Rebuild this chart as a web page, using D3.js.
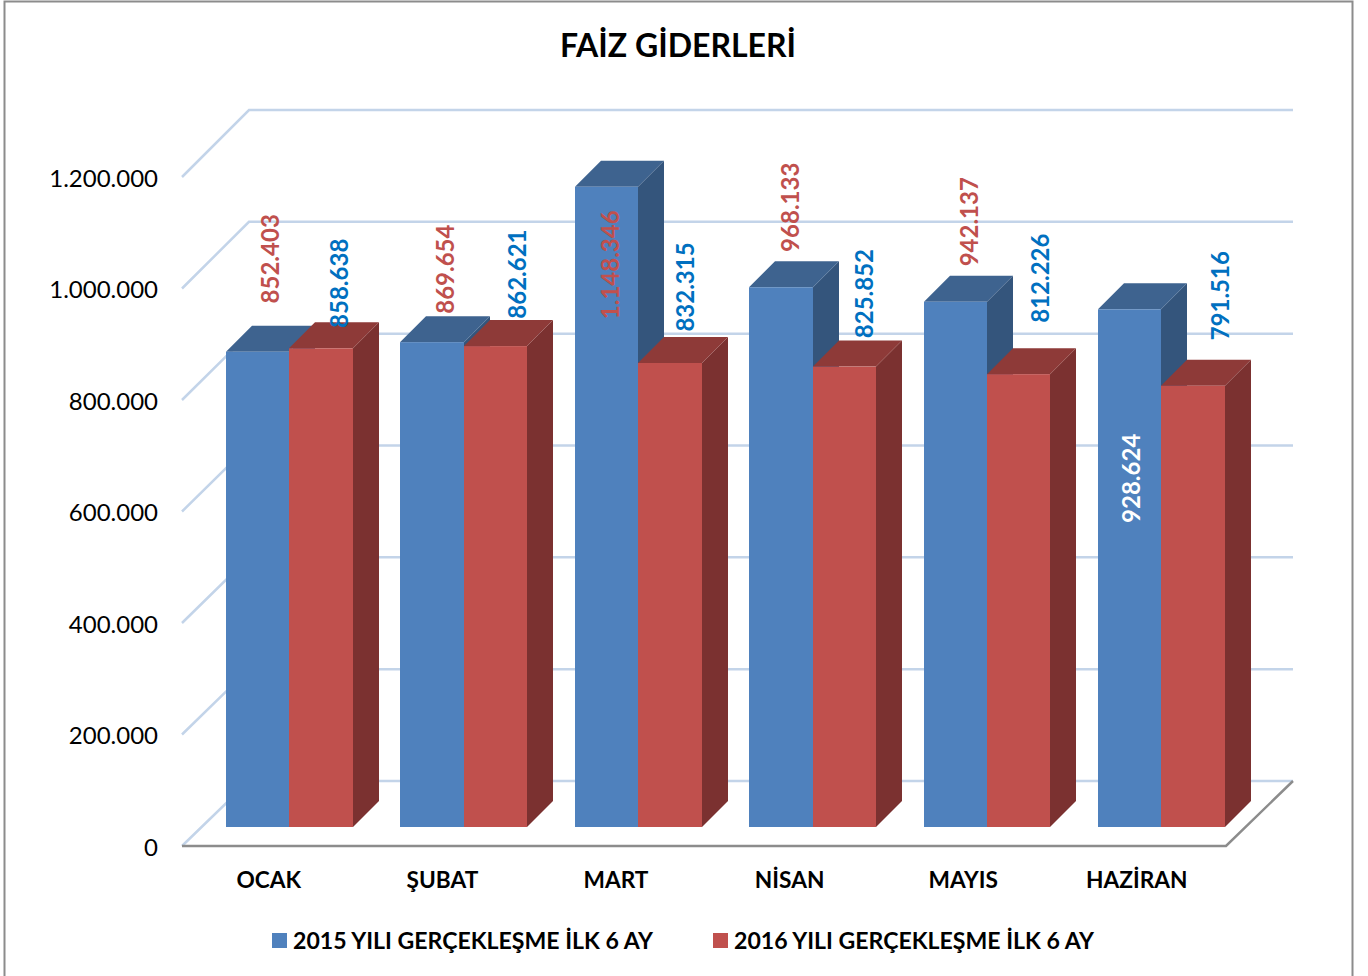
<!DOCTYPE html>
<html lang="tr">
<head>
<meta charset="utf-8">
<title>Faiz Giderleri</title>
<script src="https://d3js.org/d3.v7.min.js"></script>
<style>
  html, body { margin: 0; padding: 0; background: #fff; }
  svg { display: block; }
  text { font-family: Lato, "Open Sans", sans-serif; fill: #000; }
  .axis path, .axis line { display: none; }
</style>
</head>
<body>
<script>
// chart values
var categories = ["OCAK", "ŞUBAT", "MART", "NİSAN", "MAYIS", "HAZİRAN"];
var values2015 = [852403, 869654, 1148346, 968133, 942137, 928624];
var values2016 = [858638, 862621, 832315, 825852, 812226, 791516];
var yTicks = [0, 200000, 400000, 600000, 800000, 1000000, 1200000];
var seriesNames = ["2015 YILI GERÇEKLEŞME İLK 6 AY", "2016 YILI GERÇEKLEŞME İLK 6 AY"];

var width = 1368, height = 976;
var plot = {left: 182, right: 1226, bottom: 846, top: 177};
var wallDx = 67;   // floor depth of the 3d box
var barDepth = 26, barLift = 19, barW = 63.4;

// the labels were dragged by hand in the original, so nudge each one from its bar top
var labelNudge2015 = [[13, -93], [13, -73], [4, 78], [9, -80], [14, -80], [2, 169]];
var labelNudge2016 = [[18, -65], [22, -72], [15, -76], [20, -73], [22, -96], [27, -90]];
var labelColor2015 = ["#C0504D", "#C0504D", "#C0504D", "#C0504D", "#C0504D", "#FFFFFF"];
var labelColor2016 = "#0070C0";

var colors = [
    {front: "#4F81BD", top: "#3E638F", side: "#34557C"},
    {front: "#C0504D", top: "#8E3A38", side: "#7B3130"}
];

var fmt = d3.formatLocale({decimal: ",", thousands: ".", grouping: [3], currency: ["", ""]}).format(",d");

var xLabels = d3.scaleBand().domain(categories).range([plot.left, plot.left + 6 * 173.6]);
// bars step slightly wider than the axis labels in the original
var xBars = d3.scaleBand().domain(categories).range([226, 226 + 6 * 174.4]);
var y = d3.scaleLinear().domain([0, 1200000]).range([plot.bottom, plot.top]);
// back wall has its own scale, the gridlines there sit a bit wider apart
var yBack = d3.scaleLinear().domain([0, 1200000]).range([781, 110]);

var svg = d3.select("body").append("svg").attr("width", width).attr("height", height);

// outer frame, no bottom edge
svg.append("path")
    .attr("d", "M4.5," + height + "V1.5H1352.5V" + height)
    .attr("fill", "none").attr("stroke", "#8C8C8C").attr("stroke-width", 2);

svg.append("text")
    .attr("x", 678).attr("y", 57)
    .attr("text-anchor", "middle")
    .attr("font-size", 32).attr("font-weight", 700)
    .text("FAİZ GİDERLERİ");

// grid on the side and back walls
svg.selectAll(".grid").data(yTicks).enter().append("path")
    .attr("class", "grid")
    .attr("fill", "none").attr("stroke", "#C3D4E9").attr("stroke-width", 2.5)
    .attr("d", function(d) {
        return "M" + plot.left + "," + y(d) +
            "L" + (plot.left + wallDx) + "," + yBack(d) +
            "H" + (plot.right + wallDx);
    });

// floor front edge and right edge
svg.append("path")
    .attr("fill", "none").attr("stroke", "#8C8C8C").attr("stroke-width", 2.5)
    .attr("d", "M" + plot.left + "," + plot.bottom + "H" + plot.right +
        "L" + (plot.right + wallDx) + "," + yBack(0));

// bars, drawn left to right so the red box sits over the blue side
function drawBar(g, v, i, s) {
    var xl = Math.round(xBars(categories[i]) + s * barW);
    var xr = Math.round(xBars(categories[i]) + (s + 1) * barW);
    var yt = y(v) - barLift;
    var yb = y(0) - barLift;
    var c = colors[s];
    g.append("path").attr("fill", c.side)
        .attr("d", "M" + xr + "," + yt + "l" + barDepth + "," + (-barDepth) + "V" + (yb - barDepth) + "L" + xr + "," + yb + "Z");
    g.append("path").attr("fill", c.top)
        .attr("d", "M" + xl + "," + yt + "l" + barDepth + "," + (-barDepth) + "H" + (xr + barDepth) + "L" + xr + "," + yt + "Z");
    g.append("rect").attr("fill", c.front)
        .attr("x", xl).attr("y", yt).attr("width", xr - xl).attr("height", yb - yt);
}

var bars = svg.append("g");
categories.forEach(function(c, i) {
    drawBar(bars, values2015[i], i, 0);
    drawBar(bars, values2016[i], i, 1);
});

// value labels
function drawLabel(v, i, s, nudge, color) {
    var cx = xBars(categories[i]) + s * barW + barW / 2 + nudge[0];
    var cy = y(v) - barLift + nudge[1];
    svg.append("text")
        .attr("transform", "translate(" + cx + "," + cy + ") rotate(-90)")
        .attr("text-anchor", "middle")
        .attr("dy", "0.36em")
        .attr("font-size", 24).attr("font-weight", 700)
        .style("fill", color)
        .text(fmt(v));
}
values2015.forEach(function(v, i) { drawLabel(v, i, 0, labelNudge2015[i], labelColor2015[i]); });
values2016.forEach(function(v, i) { drawLabel(v, i, 1, labelNudge2016[i], labelColor2016); });

// axes
var yAxis = d3.axisLeft(y).tickValues(yTicks).tickFormat(fmt).tickSize(0).tickPadding(24);
svg.append("g").attr("class", "axis")
    .attr("transform", "translate(" + plot.left + ",0)")
    .call(yAxis)
    .call(function(g) {
        g.selectAll("text").attr("font-size", 24).attr("font-family", null).attr("dy", "0.38em");
    });

var xAxis = d3.axisBottom(xLabels).tickSize(0).tickPadding(26);
svg.append("g").attr("class", "axis")
    .attr("transform", "translate(0," + plot.bottom + ")")
    .call(xAxis)
    .call(function(g) {
        g.selectAll("text").attr("font-size", 22.7).attr("font-weight", 700);
    });

// legend
var legendX = [272, 713];
var legend = svg.selectAll(".legend").data(seriesNames).enter().append("g")
    .attr("class", "legend")
    .attr("transform", function(d, i) { return "translate(" + legendX[i] + ",933)"; });
legend.append("rect")
    .attr("width", 15).attr("height", 15)
    .attr("fill", function(d, i) { return colors[i].front; });
legend.append("text")
    .attr("x", 21).attr("y", 16)
    .attr("font-size", 23.1).attr("font-weight", 700)
    .text(function(d) { return d; });
</script>
</body>
</html>
